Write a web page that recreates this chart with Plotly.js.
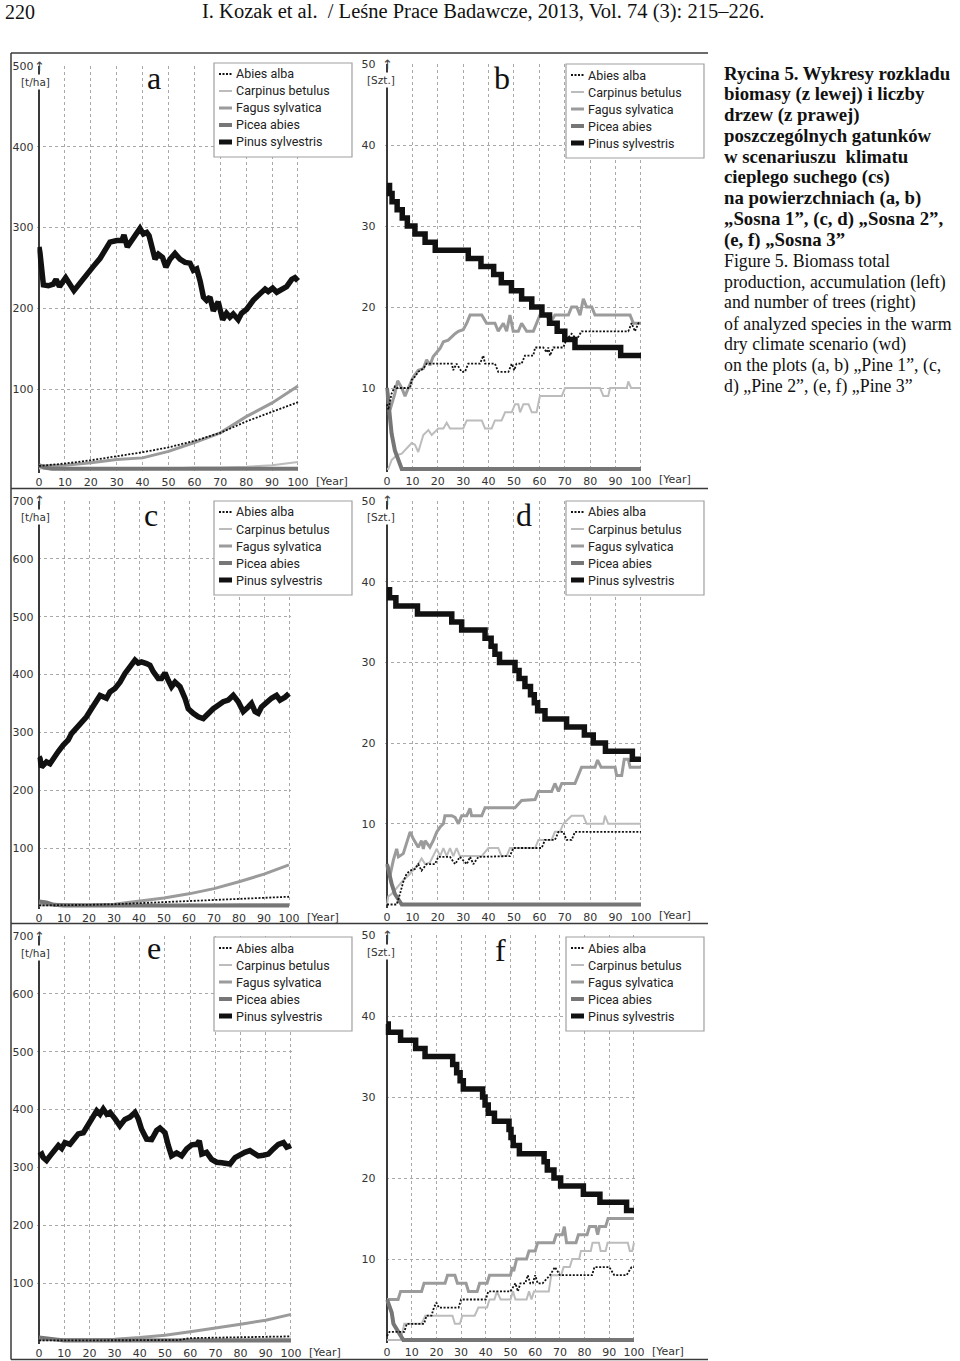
<!DOCTYPE html>
<html><head><meta charset="utf-8">
<script src="https://cdn.plot.ly/plotly-3.0.1.min.js"></script>
<style>html,body{margin:0;padding:0;background:#fff}</style>
</head><body>
<div id="chart" style="width:960px;height:1361px"></div>
<script>
// ---------------- DATA ----------------
const SPECIES = ["Abies alba","Carpinus betulus","Fagus sylvatica","Picea abies","Pinus sylvestris"];
const DECADES = [0,10,20,30,40,50,60,70,80,90,100];
const X_TICKS = [0,10,20,30,40,50,60,70,80,90,100];
const Y_TICKS_BIOMASS_A = [100,200,300,400,500];
const Y_TICKS_BIOMASS_CE = [100,200,300,400,500,600,700];
const Y_TICKS_TREES = [10,20,30,40,50];

// Panel a – biomass [t/ha], Sosna 1
const A_ABIES = [5,8,12,17,22,28,36,46,60,72,84];
const A_CARPINUS = [2,2,2,2,2,2,3,3,4,6,10];
const A_FAGUS = [5,6,9,13,15,23,34,46,66,83,104];
const A_PICEA_X = [0,2,5,100];
const A_PICEA_Y = [6,3,1.5,1.5];
const A_PINUS_X = [0,0.4,1.7,3.6,5.5,6.6,7.9,10.3,13.5,15.8,18.4,21,23.6,25.5,27.4,30,32,32.8,34.1,35.8,39,40.3,41.6,42.5,43.5,44.8,46.1,47.7,49,50.6,52.5,54.4,56.4,58.3,59.6,60.9,62.2,63.5,64.7,66,67.3,69.2,70.9,72.4,73.7,75,76.9,78.2,80.2,82.7,85.3,87.3,88.5,90.2,91.8,93.7,95.6,97.6,98.8,100];
const A_PINUS_Y = [276,268,229,228,230,236,227,238,222,232,242,252,262,271,282,284,284,291,276,284,299,292,294,290,276,261,267,263,251,261,268,261,257,256,247,249,234,214,210,214,197,208,186,194,189,193,186,194,199,210,218,224,221,225,220,223,227,236,238,234];

// Panel b – number of trees [Szt.], Sosna 1
const B_ABIES_X = [0,0.5,1.8,3.1,3.8,9.1,9.7,11,12.3,14.3,15.6,25.5,26.1,27.4,29.4,30.7,32,36.6,37.9,38.6,42.5,43.8,47.8,49.1,50.1,51,53,54.3,57.6,58.3,61.5,62.9,63.5,64.2,65.5,69.4,70.7,72.7,74.7,76.6,95,96.3,97.6,99,100];
const B_ABIES_Y = [8,7.3,9.3,10.2,10,10,11,11.4,12,12.4,13,13,12.2,13,12,12,13,13,14,13,13,12,12,13,12.2,13,13,14,14,15,15,14.4,15,14,15,15,16,16.7,16,17,17,18,17,18,18];
const B_CARPINUS_X = [0,0.5,1.8,3.8,5.8,8.4,9.7,11,12.3,14.3,16.3,17.6,20.2,22.2,23.5,24.8,30,31.4,37.3,38.6,41.2,42.5,45.1,46.5,49.1,50.4,51.7,52.4,53.7,55.7,57,58.9,60.2,68.8,70.1,83.9,85.2,87.1,87.8,94.4,95,96.1,100];
const B_CARPINUS_Y = [0,0,1.1,1.7,1.9,2.8,3.2,3,2.1,4.2,4.8,4.2,5,5,5.7,5,5,6,6,5,5,6,6,7,7,8,8,7,8,8,7,7,9,9,10,10,9,9,10,10,10.8,10,10];
const B_FAGUS_X = [0,1.2,3.1,4.2,5.8,7.1,8.4,10.4,12.3,14.3,15.6,16.9,18.2,20.9,22.2,24.1,26.8,28.1,30,31.4,32.7,37.3,39.2,42.5,43.8,45.8,47.1,48.4,49.7,51.7,53,55,57.6,58.9,60.2,62.9,64.2,66.1,71.4,72.7,74.7,76,77.3,78.6,80.6,81.9,95.7,97,100];
const B_FAGUS_Y = [10,7.3,9.3,10.9,10,9,10,11.4,12.2,12.4,13.5,12.8,13.9,14.9,15.7,15.9,16.7,17,17.2,18,19,19,18,18,17,18,17,19,17,17,18,17,17,18,19,19,18,19,19,20,20,19,21,20,20,19,19,18,18];
const B_PICEA_X = [0,0.5,1.8,3.1,4.5,5.8,100];
const B_PICEA_Y = [10,8.5,4.4,2.3,0.9,0,0];
const B_PINUS_X = [0,1,2,4,6,8,11,15,19,32,37,42,45,49,53,57,61,64,67,70,74,92,100];
const B_PINUS_Y = [35,34,33,32,31,30,29,28,27,26,25,24,23,22,21,20,19,18,17,16,15,14,14];

// Panel c – biomass, Sosna 2
const C_ABIES = [1,1,2,3,5,6,8,10,12,14,16];
const C_CARPINUS = [1,1,1,1,2,2,2,2,3,3,3];
const C_FAGUS = [3,2,2,3,8,14,21,30,42,55,71];
const C_PICEA_X = [0,3,6,10,100];
const C_PICEA_Y = [8,6,2,1,1];
const C_PINUS_X = [0,0.4,1,3,4.4,5.7,7.7,9.7,11.7,13,15,17,19,21,23,24.4,27,28.4,30.4,32.4,34.4,36.4,38.4,39.7,41,43,44.4,45.7,47.7,49,50.4,51.7,53,54.4,56.4,58.4,59.7,61.7,63.7,65.7,67.7,69.7,71.7,73.7,75.7,77.7,79.7,81.7,83.7,85,86.4,87.7,89,91,93,95,96.4,98.4,100];
const C_PINUS_Y = [258,255,240,249,246,255,267,278,287,298,307,315,327,341,353,364,359,370,376,387,402,413,425,420,422,419,416,405,393,393,403,390,379,387,379,359,341,333,327,324,333,341,347,353,356,364,353,336,344,350,336,333,344,353,359,364,356,361,367];

// Panel d – number of trees, Sosna 2
const D_ABIES_X = [0,3.8,5.1,6.4,7.7,9.1,11,12.3,13.6,15.6,18.9,20.2,24.8,26.8,28.7,31.4,32.7,34,36,48.4,49.7,60.9,62.2,66.1,67.5,69.4,70.7,72.7,74,100];
const D_ABIES_Y = [0,0,1.3,2.8,3.8,4.2,4.4,5,4.2,5,5,5.9,5.9,5,5.9,5,5.9,5,5.9,6,7,7,8,8,9,9,8,8,9,9];
const D_CARPINUS_X = [0,0.5,1.8,3.8,6.4,9.1,12.3,13.6,15,16.9,19.6,20.9,22.2,23.5,24.8,26.1,27.4,28.7,37.3,39.9,43.8,45.1,47.1,48.4,58.3,59.6,64.8,66.1,68.1,69.4,72.7,77.3,78.6,85.2,85.8,87.1,100];
const D_CARPINUS_Y = [0,1,1.3,2.1,3,3.8,5,5.7,5,5.2,6.9,6,7,6,7,6,7,6,6,7,7,6,6,7,7,8,8,9,9,10,11,11,10,10,11,10,10];
const D_FAGUS_X = [0,0.5,1.2,2.5,3.8,4.5,6.4,7.7,9.1,10.4,12.3,13.6,14.3,15,16.9,18.2,19.6,20.9,22.2,22.8,25.5,26.8,28.1,29.4,31.4,32.7,33.3,37.3,38.6,50.4,53,58.3,59.6,64.8,66.1,67.5,68.8,74,75.3,76.6,81.9,82.9,84.3,89.8,90.4,92.4,93.4,95,95.7,100];
const D_FAGUS_Y = [5,4.6,3.6,5.5,6.9,5.9,6.3,7.5,9,8.1,7.1,7.9,6.9,7.9,7.1,7.9,9,9.6,10,11,11,10.8,10,11,11,11.9,11,11,12,12,12.9,13,14,14,15,14,15,15,16,17,17,17.9,17,17,16,16,18,18,17,17];
const D_PICEA_X = [0,0.5,1.8,3.1,4.5,5.8,100];
const D_PICEA_Y = [5,4.2,2.6,1.3,0.5,0,0];
const D_PINUS_X = [0,1,3.5,12,25.5,29.4,38.6,41,42.5,44.3,50.4,52,54.3,56.5,58,59.3,62.2,70.7,77.7,81.2,86,96.6,100];
const D_PINUS_Y = [39,38,37,36,35,34,33,32,31,30,29,28,27,26,25,24,23,22,21,20,19,18,18];

// Panel e – biomass, Sosna 3
const E_ABIES_X = [0,55,60,80,100];
const E_ABIES_Y = [1,1.5,5,7,8];
const E_CARPINUS = [2,2,2,2,2,2,3,3,3,4,4];
const E_FAGUS = [2,2,2,3,6,10,16,22,29,36,46];
const E_PICEA_X = [0,3,6,10,100];
const E_PICEA_Y = [6,4,2,1,1];
const E_PINUS_X = [0,1.1,1.7,3,4.4,6.3,7.7,9,10.3,12.3,13.6,15.6,17.6,19.2,20.9,22.9,24.2,25.5,26.9,28.2,30.2,32.1,34.1,36.1,38.1,39.4,40.7,42.7,44.7,46.7,48,50,51.3,52.6,54.6,56.6,58.6,60.6,62.6,63.6,64.6,66.5,68.5,70.5,72.5,74.5,75.8,77.8,79.8,81.7,83.7,85.7,87,89,91,93,95,97,98.3,100];
const E_PINUS_Y = [320,323,317,312,320,329,338,333,343,340,348,358,360,373,384,398,392,401,392,395,384,372,383,387,395,384,366,349,348,364,368,360,338,320,325,320,332,339,340,346,323,326,314,309,308,308,306,317,323,326,329,323,320,321,323,332,340,343,335,338];

// Panel f – number of trees, Sosna 3
const F_ABIES_X = [0,1,7,8,15,16,18,19,20,21,29,30,40,41,50,52,53,54,56,57,58,59,60,61,63,66,68,70,83,84,90,92,97,99,100];
const F_ABIES_Y = [0.5,1,1,2,2,3,3,4,4.6,4,4,5,5,6,6,7,6,7,7,8,7,7,8,7,7,8,9,8,8,9,9,8,8,9,9];
const F_CARPINUS_X = [0,5.5,7,14,15.5,26.5,27.5,29.5,30.5,35.5,37,40.5,41.5,43.5,44.5,46,50,51,52,56.5,57.5,58.5,59.5,65.5,66.5,70.5,71.5,74,75,77.8,78.5,82.5,83.2,85.8,86.5,88.5,89.3,97.5,98.3,99.3,100];
const F_CARPINUS_Y = [0,0,2,2,3,3,2,2,3,3,4,4,5,5,6,5,5,6,5,5,6,5,6,6,8,8,9,9,10,10,11,11,12,12,11,11,12,12,11,11,12];
const F_FAGUS_X = [0,4.5,5.5,14,15,23.5,24.5,27.5,28.5,32,33,36.5,37.5,40.5,41.5,50,50.7,51.3,52.5,54.5,56.5,57.5,60,61,67.5,68.5,71,71.8,72.7,76.5,77.5,81,82,84.5,85.3,86,88.5,89.5,100];
const F_FAGUS_Y = [5,5,6,6,7,7,8,8,7,7,6,6,7,7,8,8,9,8.5,10,10,10,11,11,12,12,13,13,14,12,12,13,13,14,14,13,14,14,15,15];
const F_PICEA_X = [0,1.9,2.6,3.9,5.3,6.6,100];
const F_PICEA_Y = [5,3.4,2,1.3,0.7,0,0];
const F_PINUS_X = [0,0.5,5.5,11.6,15.4,26.6,28.2,29.6,30.9,38.7,39.7,41,43.5,49.4,50.2,51.1,53.6,63.6,64.9,67.6,70.3,79.5,86.2,97,100];
const F_PINUS_Y = [39,38,37,36,35,34,33,32,31,30,29,28,27,26,25,24,23,22,21,20,19,18,17,16,16];

// Text
const HEADER_PAGE = "220";
const HEADER_TITLE = "I. Kozak et al.  / Leśne Prace Badawcze, 2013, Vol. 74 (3): 215–226.";
const CAPTION_PL = ["Rycina 5. Wykresy rozkladu","biomasy (z lewej) i liczby","drzew (z prawej)","poszczególnych gatunków","w scenariuszu  klimatu","cieplego suchego (cs)","na powierzchniach (a, b)","„Sosna 1”, (c, d) „Sosna 2”,","(e, f) „Sosna 3”"];
const CAPTION_EN = ["Figure 5. Biomass total","production, accumulation (left)","and number of trees (right)","of analyzed species in the warm","dry climate scenario (wd)","on the plots (a, b) „Pine 1”, (c,","d) „Pine 2”, (e, f) „Pine 3”"];

// ---------------- LAYOUT / STYLE ----------------
const W = 960, H = 1361;
const fx = p => p / W, fy = p => 1 - p / H;
const STYLE = {
  "Abies alba": {color:'#111', width:1.8, dash:'2px,1.6px'},
  "Carpinus betulus": {color:'#bcbcbc', width:2},
  "Fagus sylvatica": {color:'#9b9b9b', width:3},
  "Picea abies": {color:'#767676', width:4},
  "Pinus sylvestris": {color:'#111', width:5.5}
};
const LEGEND_STYLE = {
  "Abies alba": {color:'#111', width:2, dash:'2px,1.5px'},
  "Carpinus betulus": {color:'#bcbcbc', width:2},
  "Fagus sylvatica": {color:'#9b9b9b', width:3},
  "Picea abies": {color:'#767676', width:4},
  "Pinus sylvestris": {color:'#111', width:5}
};
const DRAW_ORDER = ["Carpinus betulus","Fagus sylvatica","Picea abies","Abies alba","Pinus sylvestris"];

const PANELS = [
  {letter:'a', unit:'[t/ha]', top:500, yt:Y_TICKS_BIOMASS_A, x0:39, x100:298, y0:470, yTop:66, lx:214, ly:63, letterX:154, letterY:78, stand:3,
   data:{"Abies alba":[DECADES,A_ABIES],"Carpinus betulus":[DECADES,A_CARPINUS],"Fagus sylvatica":[DECADES,A_FAGUS],"Picea abies":[A_PICEA_X,A_PICEA_Y],"Pinus sylvestris":[A_PINUS_X,A_PINUS_Y]}, steps:false},
  {letter:'b', unit:'[Szt.]', top:50, yt:Y_TICKS_TREES, x0:387, x100:641, y0:469, yTop:64, lx:566, ly:64, letterX:502, letterY:78, stand:9,
   data:{"Abies alba":[B_ABIES_X,B_ABIES_Y],"Carpinus betulus":[B_CARPINUS_X,B_CARPINUS_Y],"Fagus sylvatica":[B_FAGUS_X,B_FAGUS_Y],"Picea abies":[B_PICEA_X,B_PICEA_Y],"Pinus sylvestris":[B_PINUS_X,B_PINUS_Y]}, steps:true},
  {letter:'c', unit:'[t/ha]', top:700, yt:Y_TICKS_BIOMASS_CE, x0:39, x100:289, y0:906, yTop:501, lx:214, ly:501, letterX:151, letterY:515, stand:3,
   data:{"Abies alba":[DECADES,C_ABIES],"Carpinus betulus":[DECADES,C_CARPINUS],"Fagus sylvatica":[DECADES,C_FAGUS],"Picea abies":[C_PICEA_X,C_PICEA_Y],"Pinus sylvestris":[C_PINUS_X,C_PINUS_Y]}, steps:false},
  {letter:'d', unit:'[Szt.]', top:50, yt:Y_TICKS_TREES, x0:387, x100:641, y0:904.5, yTop:501, lx:566, ly:501, letterX:524, letterY:515, stand:9,
   data:{"Abies alba":[D_ABIES_X,D_ABIES_Y],"Carpinus betulus":[D_CARPINUS_X,D_CARPINUS_Y],"Fagus sylvatica":[D_FAGUS_X,D_FAGUS_Y],"Picea abies":[D_PICEA_X,D_PICEA_Y],"Pinus sylvestris":[D_PINUS_X,D_PINUS_Y]}, steps:true},
  {letter:'e', unit:'[t/ha]', top:700, yt:Y_TICKS_BIOMASS_CE, x0:39, x100:291, y0:1341, yTop:936, lx:214, ly:937, letterX:154, letterY:948, stand:3,
   data:{"Abies alba":[E_ABIES_X,E_ABIES_Y],"Carpinus betulus":[DECADES,E_CARPINUS],"Fagus sylvatica":[DECADES,E_FAGUS],"Picea abies":[E_PICEA_X,E_PICEA_Y],"Pinus sylvestris":[E_PINUS_X,E_PINUS_Y]}, steps:false},
  {letter:'f', unit:'[Szt.]', top:50, yt:Y_TICKS_TREES, x0:387, x100:634, y0:1340, yTop:935, lx:566, ly:937, letterX:500, letterY:950, stand:9,
   data:{"Abies alba":[F_ABIES_X,F_ABIES_Y],"Carpinus betulus":[F_CARPINUS_X,F_CARPINUS_Y],"Fagus sylvatica":[F_FAGUS_X,F_FAGUS_Y],"Picea abies":[F_PICEA_X,F_PICEA_Y],"Pinus sylvestris":[F_PINUS_X,F_PINUS_Y]}, steps:true}
];

const traces = [];
const layout = {
  width: W, height: H, margin:{l:0,r:0,t:0,b:0},
  paper_bgcolor:'#fff', plot_bgcolor:'rgba(0,0,0,0)',
  showlegend:false, annotations:[], shapes:[]
};
const tickFont = {family:'DejaVu Sans', size:11, color:'#333'};
const gridStyle = {showgrid:true, gridcolor:'#a9a9a9', griddash:'3px,3px', gridwidth:1};
const LEG_W = 138, LEG_H = 94, LEG_ROW = 17, LEG_FIRST = 11;

PANELS.forEach((p, i) => {
  const n = i + 1, sfx = n === 1 ? '' : String(n);
  const kx = (p.x100 - p.x0) / 100;           // px per year
  const ky = (p.y0 - p.yTop) / p.top;         // px per unit
  const padL = 0.6, padR = 0.8, padB = p.top * 0.008;
  layout['xaxis' + sfx] = Object.assign({
    domain:[fx(p.x0 - padL * kx), fx(p.x100 + padR * kx)], range:[-padL, 100 + padR],
    anchor:'y' + sfx, tickmode:'array', tickvals:X_TICKS, ticktext:X_TICKS.map(String),
    zeroline:true, zerolinecolor:'#3a3a3a', zerolinewidth:1.5, showline:false, ticks:'',
    tickfont:tickFont, ticklabelstandoff:1, fixedrange:true
  }, gridStyle);
  layout['yaxis' + sfx] = Object.assign({
    domain:[fy(p.y0 + padB * ky), fy(p.yTop)], range:[-padB, p.top],
    anchor:'x' + sfx, tickmode:'array', tickvals:p.yt, ticktext:p.yt.map(String),
    zeroline:false, showline:false, ticks:'', tickfont:tickFont, ticklabelstandoff:p.stand, fixedrange:true
  }, gridStyle);
  DRAW_ORDER.forEach(name => {
    const [xs, ys] = p.data[name];
    const stepped = p.steps && name === 'Pinus sylvestris';
    traces.push({
      type:'scatter', mode:'lines', name:name, x:xs, y:ys,
      xaxis:'x' + sfx, yaxis:'y' + sfx,
      line:Object.assign({shape: stepped ? 'hv' : 'linear'}, STYLE[name]),
      hoverinfo:'skip', showlegend:false
    });
  });
  // legend box with samples and names
  layout.shapes.push({type:'rect', xref:'paper', yref:'paper', x0:fx(p.lx), y0:fy(p.ly), x1:fx(p.lx + LEG_W), y1:fy(p.ly + LEG_H),
    fillcolor:'#fff', line:{color:'#a0a0a0', width:1.2}, layer:'above'});
  SPECIES.forEach((name, k) => {
    const yy = p.ly + LEG_FIRST + k * LEG_ROW;
    layout.shapes.push({type:'line', xref:'paper', yref:'paper', x0:fx(p.lx + 5), x1:fx(p.lx + 18), y0:fy(yy), y1:fy(yy),
      line:LEGEND_STYLE[name], layer:'above'});
    layout.annotations.push({xref:'paper', yref:'paper', x:fx(p.lx + 20), y:fy(yy), xanchor:'left', yanchor:'middle',
      text:name, showarrow:false, font:{family:'Roboto', size:12.5, color:'#222'}});
  });
  // panel letter
  layout.annotations.push({xref:'paper', yref:'paper', x:fx(p.letterX), y:fy(p.letterY), xanchor:'center', yanchor:'middle',
    text:p.letter, showarrow:false, font:{family:'Liberation Serif', size:32, color:'#111'}});
  // axis arrow and unit
  layout.annotations.push({xref:'paper', yref:'paper', x:fx(p.x0 + 0.5), y:fy(p.yTop), xanchor:'center', yanchor:'middle',
    text:'↑', showarrow:false, font:{family:'DejaVu Sans', size:13, color:'#444'}});
  const unitX = p.unit === '[t/ha]' ? 35 : 381;
  layout.annotations.push({xref:'paper', yref:'paper', x:fx(unitX), y:fy(p.yTop + 16.5), xanchor:'center', yanchor:'middle',
    text:p.unit, showarrow:false, bgcolor:'#fff', borderpad:1, font:{family:'DejaVu Sans', size:10.5, color:'#333'}});
  // [Year]
  layout.annotations.push({xref:'paper', yref:'paper', x:fx(p.x100 + 16), y:fy(p.y0 + 11), xanchor:'left', yanchor:'middle',
    text:'[Year]', showarrow:false, font:tickFont});
});

// frame
const frameLine = (x0, y0, x1, y1) => ({type:'line', xref:'paper', yref:'paper', x0:fx(x0), y0:fy(y0), x1:fx(x1), y1:fy(y1),
  line:{color:'#3a3a3a', width:1.5}});
[53, 488.5, 923.5, 1359.5].forEach(y => layout.shapes.push(frameLine(11, y, 708, y)));
layout.shapes.push(frameLine(11, 53, 11, 1359.5));

// header
const serif = 'Liberation Serif';
layout.annotations.push({xref:'paper', yref:'paper', x:fx(3), y:fy(12), xanchor:'left', yanchor:'middle', showarrow:false,
  text:HEADER_PAGE, font:{family:serif, size:20, color:'#111'}});
layout.annotations.push({xref:'paper', yref:'paper', x:fx(200), y:fy(12), xanchor:'left', yanchor:'middle', showarrow:false,
  text:HEADER_TITLE, font:{family:serif, size:20.5, color:'#111'}});

// caption
CAPTION_PL.concat(CAPTION_EN).forEach((line, i) => {
  const bold = i < CAPTION_PL.length;
  layout.annotations.push({xref:'paper', yref:'paper', x:fx(722), y:fy(73 + i * 20.9), xanchor:'left', yanchor:'middle',
    showarrow:false, text: bold ? '<b>' + line + '</b>' : line, font:{family:serif, size: bold ? 18.8 : 17.8, color:'#111'}});
});

Plotly.newPlot('chart', traces, layout, {staticPlot:true, displayModeBar:false});
</script>
</body></html>
